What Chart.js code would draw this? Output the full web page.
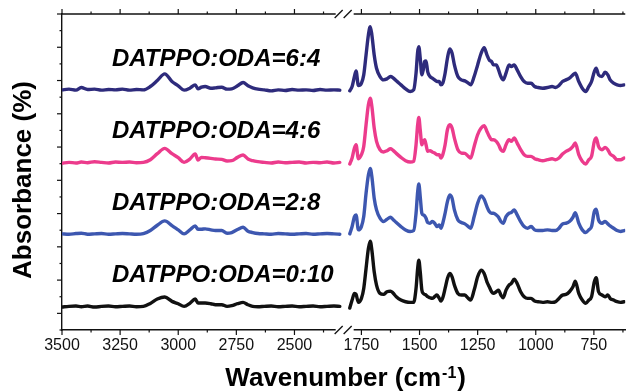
<!DOCTYPE html>
<html>
<head>
<meta charset="utf-8">
<script src="https://cdn.jsdelivr.net/npm/chart.js@4.4.1/dist/chart.umd.min.js"></script>
<style>
  html, body { margin: 0; padding: 0; background: #fff; overflow: hidden; }
</style>
</head>
<body>
<canvas id="ftir" width="630" height="392"></canvas>
<script>
// FTIR spectra of the copolyimide films, broken wavenumber axis
const sampleNames = ['DATPPO:ODA=6:4', 'DATPPO:ODA=4:6', 'DATPPO:ODA=2:8', 'DATPPO:ODA=0:10'];
const sampleColors = ['#2e2b7c', '#ec3b8c', '#3d57b0', '#111111'];
const baseOffsets = [67.2, 45.4, 23.9, 2.1];

// 3500 - 2300 cm-1 window
const wnHigh = [3500, 3470, 3440, 3417, 3390, 3360, 3330, 3300, 3270, 3240, 3210, 3180, 3150, 3120, 3090, 3058,
  3027, 3000, 2975, 2950, 2927, 2915, 2900, 2884, 2860, 2840, 2813, 2790, 2770, 2745, 2721, 2700, 2680, 2657,
  2630, 2600, 2570, 2540, 2510, 2480, 2450, 2420, 2390, 2360, 2330, 2305];
const abs64High = [0, 0.2, -0.1, 0.7, 0.1, 0.2, -0.1, 0.1, 0, 0.2, -0.1, 0.1, 0, 1.0, 2.8, 4.8,
  2.5, 1.2, -0.1, 0.5, 1.5, 0.3, 0.8, 1.0, 0.5, 0.6, 0.8, 0.2, 0.3, 1.2, 2.2, 1.2, 0.6, 0.2,
  0, -0.3, 0, -0.2, 0.1, -0.1, 0, -0.2, 0.1, -0.1, 0, -0.1];
const abs46High = [-0.3, 0, -0.2, 0.1, -0.1, 0.2, 0, -0.2, 0.1, 0, 0.1, -0.1, 0, 0.8, 2.6, 4.2,
  2.6, 1.4, 0, 1.0, 2.5, 0.7, 1.5, 1.4, 1.2, 1.0, 0.9, 0.4, 0.5, 1.5, 2.2, 1.0, 0.5, 0.2,
  0, -0.2, 0.1, -0.1, 0, 0.1, -0.2, 0, -0.1, 0.1, -0.2, 0];
const abs28High = [0, -0.1, 0.1, 0.2, -0.1, 0, 0.1, -0.1, 0, 0.1, 0, -0.1, 0.1, 1.0, 2.6, 3.9,
  2.5, 1.2, 0, 1.2, 2.4, 1.4, 1.4, 1.5, 1.2, 1.0, 1.0, 0.2, 0.4, 1.3, 2.0, 0.8, 0.4, 0.1,
  0, -0.1, 0.1, 0, -0.1, 0, 0.1, -0.1, 0, 0.1, 0, -0.1];
const abs010High = [-0.2, 0, 0.1, -0.1, 0.1, -0.2, 0, 0.1, -0.1, 0, 0.1, -0.1, 0, 0.9, 2.2, 2.8,
  1.5, 0.8, 0, 0.9, 2.2, 1.0, 1.0, 1.0, 0.8, 0.5, 0.5, 0, 0.2, 0.8, 1.2, 0.5, 0, -0.1,
  0, 0.1, -0.1, 0, 0.1, -0.1, 0, 0.1, -0.1, 0, 0.1, 0];

// 1800 - 620 cm-1 window
const wnLow = [1800, 1790, 1780, 1773, 1763, 1750, 1740, 1730, 1720, 1712,
  1705, 1695, 1685, 1670, 1655, 1640, 1625, 1615, 1600, 1580,
  1560, 1540, 1525, 1515, 1508, 1503, 1497, 1490, 1484, 1478,
  1472, 1465, 1455, 1445, 1435, 1425, 1415, 1408, 1400, 1390,
  1380, 1370, 1360, 1350, 1335, 1320, 1305, 1290, 1280, 1265,
  1250, 1235, 1222, 1210, 1200, 1190, 1182, 1170, 1160, 1150,
  1140, 1128, 1115, 1105, 1093, 1080, 1065, 1050, 1035, 1020,
  1005, 990, 970, 950, 930, 915, 900, 885, 870, 855,
  840, 830, 815, 800, 785, 772, 760, 748, 740, 730,
  715, 702, 690, 680, 665, 650, 635, 620];
const abs64Low = [-0.3, 1.0, 4.0, 5.7, 1.3, 2.0, 4.5, 10.5, 16.5, 19,
  16.5, 10.5, 6.5, 4.0, 3.0, 3.3, 4.0, 3.7, 2.7, 1.5,
  0.3, -0.5, 0, 5, 11.5, 13, 9.5, 4.5, 6, 8.5,
  8.7, 5.5, 4, 3.5, 3, 2.5, 2.5, 1.5, 2, 5,
  9.5, 12.3, 11, 7.5, 4, 3, 2.7, 2, 1.5, 4,
  7.5, 11, 12.7, 10.5, 9, 8.5, 7.5, 7.5, 6, 4,
  3, 5, 7.5, 7, 7.5, 6, 4, 2.5, 2, 2,
  1, 0.7, 0.5, 0.7, 1, 0.7, 1.3, 2.5, 3, 3.5,
  4.5, 5, 2.5, 0.5, -0.5, 1, 2.5, 5.5, 6.5, 4.5,
  4, 5.3, 4.5, 3, 2, 1.5, 1.3, 1.5];
const abs46Low = [-0.5, 1.3, 4.3, 5.3, 1.1, 2.3, 4.8, 11.3, 17.3, 19.3,
  16.8, 10.3, 6.3, 3.8, 3.1, 3.5, 4.1, 3.7, 2.7, 1.5,
  0.5, 0.1, 0.3, 5.3, 11.3, 13.5, 9.8, 5.3, 6.3, 6.8,
  5.3, 3.3, 3.5, 3.1, 2.8, 2.3, 2.3, 1.3, 2.3, 5.3,
  9.8, 11.3, 10.3, 7.3, 3.8, 2.8, 2.7, 1.8, 1.3, 4.8,
  8.3, 10.3, 11, 9.3, 7.8, 6.8, 6.8, 6.3, 5.3, 3.8,
  3.3, 5.3, 6.8, 6.3, 7.3, 5.8, 3.8, 2.3, 1.8, 1.8,
  1.1, 0.8, 0.5, 0.8, 1.1, 0.8, 1.3, 2.5, 3.3, 3.8,
  4.8, 5.8, 2.3, 0.3, -0.5, 0.8, 1.8, 6.3, 7.3, 4.8,
  3.8, 4.5, 3.8, 2.5, 1.8, 0.8, 0.8, 1.3];
const abs28Low = [0, 2.2, 5.2, 5.7, 1.2, 2.2, 5.2, 12.2, 17.7, 19.7,
  17.2, 10.7, 7.2, 4.7, 3.7, 4.4, 5, 4.4, 3.4, 2.2,
  1.2, 0.7, 1, 6.2, 12.7, 15, 11.2, 6.2, 5.7, 5.4,
  4.7, 3.4, 3.2, 3.7, 3.2, 2.2, 2.7, 1.7, 3.2, 6.2,
  9.7, 11.7, 10.7, 7.2, 4.2, 3.4, 3, 2.2, 1.7, 5.2,
  9.2, 11.4, 10.4, 8.2, 6.7, 6.2, 6.2, 5.7, 5, 3.7,
  3.2, 5.2, 6.2, 6.4, 7.2, 5.7, 3.7, 2.2, 1.7, 2.2,
  1.2, 1, 1, 1.2, 1, 1, 1.7, 3, 3.2, 3.7,
  5, 6.4, 3.2, 1.2, 0.4, 1.2, 2.2, 6.7, 7.4, 4.2,
  3.2, 3.7, 3, 2.4, 1.7, 1, 0.7, 1];
const abs010Low = [-0.5, 1.9, 3.9, 3.6, 1.2, 2.4, 5.4, 11.4, 17.4, 19.6,
  16.9, 10.4, 6.4, 3.9, 3.6, 4.4, 4.6, 4.1, 2.9, 1.9,
  1.4, 1.2, 1.2, 5.4, 11.4, 13.9, 10.4, 4.9, 3.9, 3.6,
  3.4, 2.9, 2.6, 2.4, 2.9, 3.4, 2.4, 1.6, 2.6, 5.4,
  8.4, 9.9, 8.9, 6.4, 3.9, 3.4, 3.4, 2.4, 1.9, 4.9,
  8.9, 10.9, 9.9, 7.4, 5.9, 4.4, 3.9, 4.4, 4.9, 3.4,
  2.6, 4.9, 6.4, 6.9, 8.2, 6.9, 4.4, 2.9, 2.4, 2.4,
  1.6, 1.4, 1.2, 1.4, 1.2, 1.4, 2.4, 3.4, 3.6, 4.4,
  5.9, 7.6, 3.9, 1.9, 0.9, 1.9, 2.9, 7.4, 8.6, 4.4,
  3.4, 2.9, 3.4, 2.4, 1.9, 1.4, 1.2, 1.4];

const highSets = [abs64High, abs46High, abs28High, abs010High];
const lowSets = [abs64Low, abs46Low, abs28Low, abs010Low];

const FONT = '"Liberation Sans", Arial, sans-serif';

function toPoints(wn, vals, off) {
  return wn.map((w, i) => ({ x: w, y: vals[i] + off }));
}

const datasets = [];
sampleNames.forEach((name, k) => {
  const common = {
    borderColor: sampleColors[k],
    borderWidth: 3.4,
    pointRadius: 0,
    fill: false,
    cubicInterpolationMode: 'monotone',
    borderJoinStyle: 'round',
    borderCapStyle: 'round'
  };
  datasets.push(Object.assign({ label: name, xAxisID: 'xl', data: toPoints(wnHigh, highSets[k], baseOffsets[k]) }, common));
  datasets.push(Object.assign({ label: name, xAxisID: 'xr', data: toPoints(wnLow, lowSets[k], baseOffsets[k]) }, common));
});

// ticks, top frame line, axis break marks, sample names and axis titles
const decorations = {
  id: 'decorations',
  afterDraw(chart) {
    const { ctx, chartArea: a } = chart;
    const xl = chart.scales.xl, xr = chart.scales.xr, y = chart.scales.y;
    const seg = (x1, y1, x2, y2) => { ctx.beginPath(); ctx.moveTo(x1, y1); ctx.lineTo(x2, y2); ctx.stroke(); };
    ctx.save();
    ctx.strokeStyle = '#111';
    ctx.lineWidth = 1.4;
    seg(a.left, a.top, a.right, a.top);

    ctx.lineWidth = 1.2;
    for (const s of [xl, xr]) {
      for (const t of s.ticks) {
        const px = s.getPixelForValue(t.value);
        const len = t.value % 250 === 0 ? 5 : 2.5;
        seg(px, a.bottom, px, a.bottom + len);
        seg(px, a.top, px, a.top - len);
      }
    }
    for (const t of y.ticks) {
      const py = y.getPixelForValue(t.value);
      const len = t.value % 10 === 0 ? 5 : 2.5;
      seg(a.left, py, a.left - len, py);
    }

    // axis break
    const bx = xl.right;
    for (const by of [a.top, a.bottom]) {
      ctx.fillStyle = '#fff';
      ctx.fillRect(bx - 9, by - 3, 18, 6);
      ctx.lineWidth = 1.3;
      seg(bx - 10, by + 4, bx - 2, by - 4);
      seg(bx - 1, by + 4, bx + 7, by - 4);
    }

    // sample names
    ctx.fillStyle = '#000';
    ctx.font = 'italic bold 24px ' + FONT;
    ctx.textAlign = 'left';
    ctx.textBaseline = 'alphabetic';
    sampleNames.forEach((name, k) => {
      ctx.fillText(name, xl.getPixelForValue(3285), y.getPixelForValue(baseOffsets[k] + 7.3));
    });

    // y title
    ctx.save();
    ctx.translate(24, 180);
    ctx.rotate(-Math.PI / 2);
    ctx.font = 'bold 26px ' + FONT;
    ctx.textAlign = 'center';
    ctx.textBaseline = 'middle';
    ctx.fillText('Absorbance (%)', 0, 0);
    ctx.restore();

    // x title with superscript
    const main = 'Wavenumber (cm', sup = '-1', close = ')';
    const bigFont = 'bold 26px ' + FONT, supFont = 'bold 16px ' + FONT;
    ctx.font = bigFont;
    const wMain = ctx.measureText(main).width, wClose = ctx.measureText(close).width;
    ctx.font = supFont;
    const wSup = ctx.measureText(sup).width + 2;
    let x0 = (a.left + a.right) / 2 + 2 - (wMain + wSup + wClose) / 2;
    const base = 386;
    ctx.textAlign = 'left';
    ctx.font = bigFont;
    ctx.fillText(main, x0, base);
    ctx.font = supFont;
    ctx.fillText(sup, x0 + wMain + 1, base - 8);
    ctx.font = bigFont;
    ctx.fillText(close, x0 + wMain + wSup, base);
    ctx.restore();
  }
};

const xCommon = {
  type: 'linear',
  position: 'bottom',
  stack: 'wavenumber',
  reverse: true,
  grid: { display: false, drawTicks: false },
  border: { display: true, color: '#111', width: 1.4 },
  ticks: {
    stepSize: 125,
    includeBounds: false,
    autoSkip: false,
    maxRotation: 0,
    padding: 6,
    color: '#111',
    font: { family: FONT, size: 16 },
    callback: v => (v % 250 === 0 ? String(v) : '')
  },
  afterFit: s => { s.height = 62; }
};

new Chart(document.getElementById('ftir'), {
  type: 'line',
  data: { datasets: datasets },
  options: {
    responsive: false,
    animation: false,
    devicePixelRatio: 1,
    layout: { padding: { top: 14, right: 0, bottom: 0, left: 0 } },
    plugins: { legend: { display: false }, tooltip: { enabled: false } },
    scales: {
      xl: Object.assign({}, xCommon, { min: 2284, max: 3500, stackWeight: 1216 }),
      xr: Object.assign({}, xCommon, { min: 615, max: 1822, stackWeight: 1207 }),
      y: {
        type: 'linear',
        position: 'left',
        min: -5,
        max: 90,
        grid: { display: false, drawTicks: false },
        border: { display: true, color: '#111', width: 1.4 },
        ticks: { display: false, stepSize: 5 },
        afterFit: s => { s.width = 62; }
      }
    }
  },
  plugins: [decorations]
});
</script>
</body>
</html>
